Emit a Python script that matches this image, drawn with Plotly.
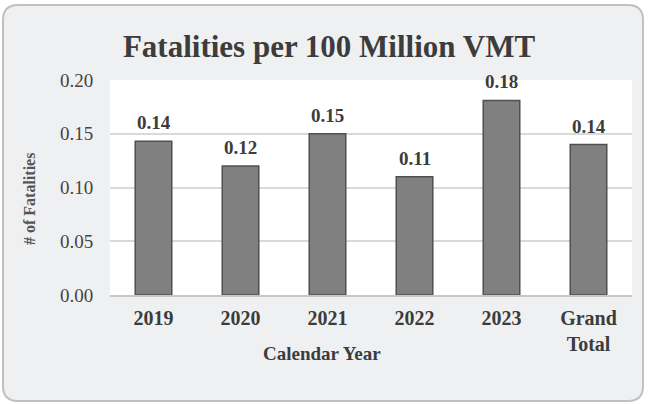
import plotly.graph_objects as go

categories = ["2019", "2020", "2021", "2022", "2023", "Grand<br>Total"]
values = [0.143, 0.12, 0.15, 0.11, 0.181, 0.14]
y_ticks = [0.0, 0.05, 0.10, 0.15, 0.20]
y_tick_labels = ["0.00", "0.05", "0.10", "0.15", "0.20"]

W, H = 648, 404
L, R, T, B = 110, 16, 80, 109
pw, ph = W - L - R, H - T - B

def px(x):
    return (x - L) / pw

def py(y):
    return (H - B - y) / ph

# rounded card path in paper coords
x0, x1, y0, y1, r = 3, 643, 5, 401, 15
path = (
    f"M {px(x0 + r)},{py(y0)} L {px(x1 - r)},{py(y0)} "
    f"Q {px(x1)},{py(y0)} {px(x1)},{py(y0 + r)} "
    f"L {px(x1)},{py(y1 - r)} Q {px(x1)},{py(y1)} {px(x1 - r)},{py(y1)} "
    f"L {px(x0 + r)},{py(y1)} Q {px(x0)},{py(y1)} {px(x0)},{py(y1 - r)} "
    f"L {px(x0)},{py(y0 + r)} Q {px(x0)},{py(y0)} {px(x0 + r)},{py(y0)} Z"
)

font = "Liberation Serif"
txt = "#3c3c3c"

fig = go.Figure(
    go.Bar(
        x=categories,
        y=values,
        marker=dict(color="#808080", line=dict(color="#505050", width=1.5)),
        width=0.42,
        hoverinfo="skip",
    )
)

label_annotations = [
    dict(
        x=i,
        y=v,
        xref="x",
        yref="y",
        text=f"<b>{v:.2f}</b>",
        showarrow=False,
        xanchor="center",
        yanchor="bottom",
        yshift=6,
        font=dict(family=font, size=19, color=txt),
    )
    for i, v in enumerate(values)
]

fig.update_layout(
    width=W,
    height=H,
    margin=dict(l=L, r=R, t=T, b=B),
    paper_bgcolor="white",
    plot_bgcolor="white",
    showlegend=False,
    title=dict(
        text="<b>Fatalities per 100 Million VMT</b>",
        x=329 / W,
        xanchor="center",
        y=1 - 46 / H,
        yanchor="middle",
        font=dict(family=font, size=31, color=txt),
    ),
    shapes=[
        dict(
            type="path",
            path=path,
            xref="paper",
            yref="paper",
            fillcolor="#eff0f2",
            line=dict(color="#c0c0c0", width=2),
            layer="below",
        ),
        dict(
            type="rect",
            xref="paper",
            yref="paper",
            x0=0,
            x1=1,
            y0=0,
            y1=1,
            fillcolor="white",
            line=dict(width=0),
            layer="below",
        ),
    ],
    annotations=label_annotations + [
        dict(
            text="<b>Calendar Year</b>",
            xref="paper",
            yref="paper",
            x=px(322),
            y=py(353),
            xanchor="center",
            yanchor="middle",
            showarrow=False,
            font=dict(family=font, size=19, color=txt),
        ),
        dict(
            text="<b># of Fatalities</b>",
            xref="paper",
            yref="paper",
            x=px(29),
            y=py(199),
            xanchor="center",
            yanchor="middle",
            textangle=-90,
            showarrow=False,
            font=dict(family=font, size=16, color="#555555"),
        ),
    ],
    font=dict(family=font, color=txt),
)

fig.update_xaxes(
    type="category",
    categoryorder="array",
    categoryarray=categories,
    range=[-0.5, len(categories) - 0.5],
    tickfont=dict(family=font, size=20, color=txt),
    tickprefix="<b>",
    ticksuffix="</b>",
    showline=True,
    linecolor="#c8c8c8",
    linewidth=2,
    ticks="outside",
    ticklen=4,
    tickcolor="rgba(0,0,0,0)",
)

fig.update_yaxes(
    range=[0, 0.2],
    tickvals=y_ticks,
    ticktext=y_tick_labels,
    tickfont=dict(family=font, size=19, color="#444444"),
    showgrid=True,
    gridcolor="#d9d9d9",
    gridwidth=2,
    zeroline=False,
    ticks="outside",
    ticklen=12,
    tickcolor="rgba(0,0,0,0)",
)

fig.write_html("out.html", config={"displayModeBar": False})

with open("out.html", "r", encoding="utf-8") as f:
    html = f.read()
html = html.replace("<head>", "<head><style>html,body{margin:0;padding:0;}</style>", 1)
with open("out.html", "w", encoding="utf-8") as f:
    f.write(html)
